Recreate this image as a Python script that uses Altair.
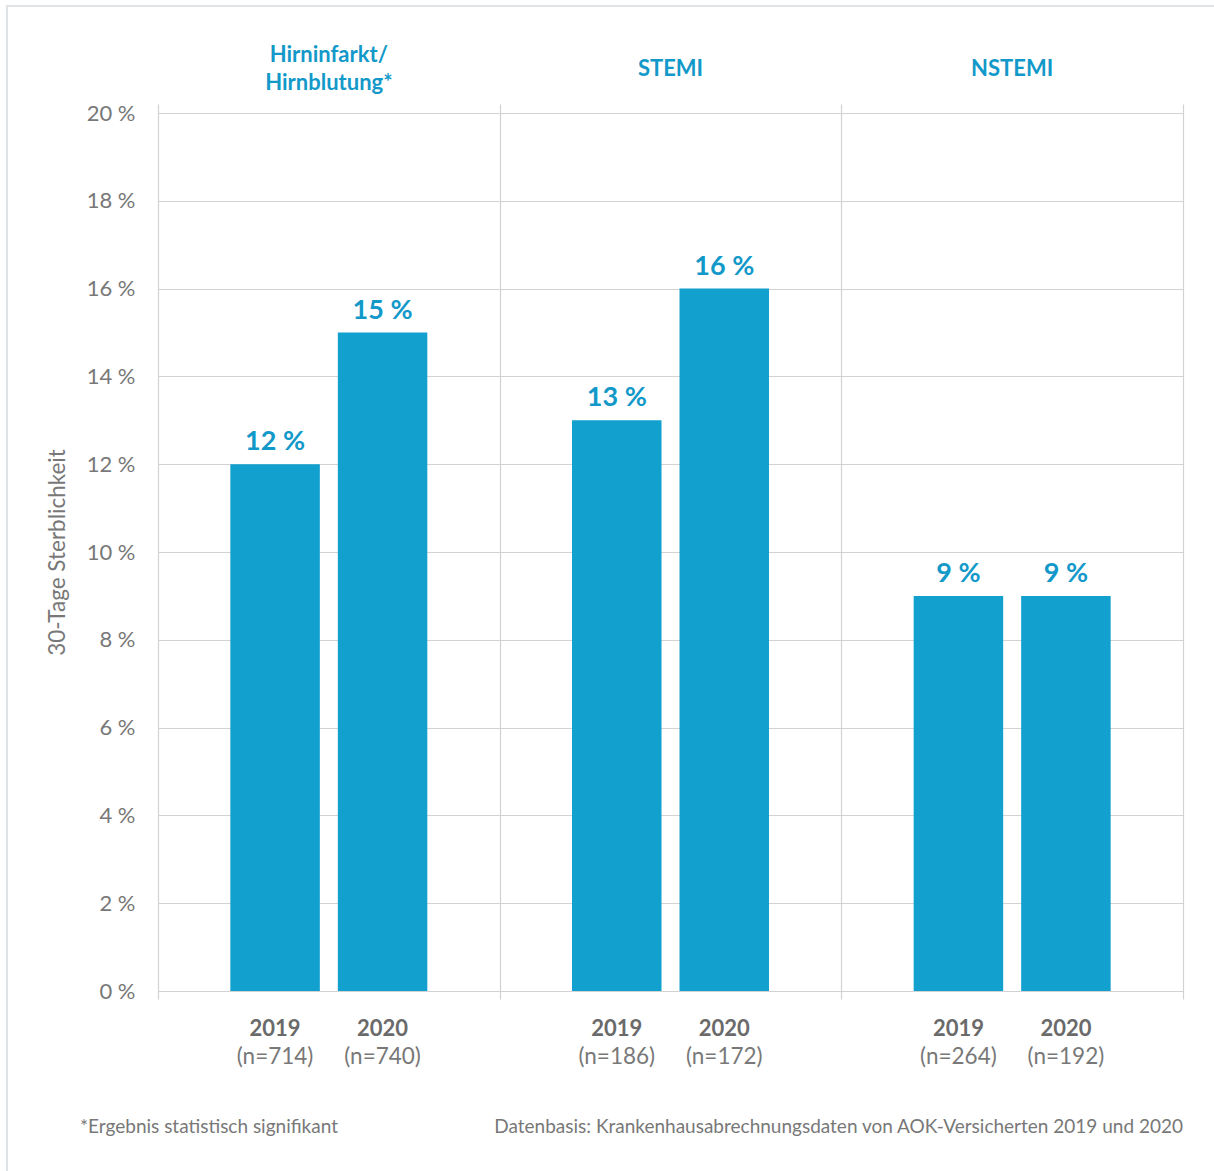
import altair as alt
import pandas as pd

# 30-day mortality by diagnosis group, 2019 vs 2020
groups = ["Hirninfarkt/\nHirnblutung*", "STEMI", "NSTEMI"]
years = ["2019", "2020"]
rates = [[12, 15], [13, 16], [9, 9]]
cases = [[714, 740], [186, 172], [264, 192]]

y_ticks = [0, 2, 4, 6, 8, 10, 12, 14, 16, 18, 20]
y_title = "30-Tage Sterblichkeit"
note_left = "*Ergebnis statistisch signifikant"
note_right = "Datenbasis: Krankenhausabrechnungsdaten von AOK-Versicherten 2019 und 2020"

rows = []
for g, vals, ns in zip(groups, rates, cases):
    for yr, v, n in zip(years, vals, ns):
        rows.append({"gruppe": g, "jahr": yr, "wert": v,
                     "label": f"{v} %", "n": f"(n={n})"})
df = pd.DataFrame(rows)
titles = pd.DataFrame({"gruppe": groups})

W, H = 1025, 878
FONT = "Lato"
BLUE = "#1399c9"
BAR = "#12a0cf"
GRAY = "#787878"
GRID = "#d2d2d2"
TITLE_MID = -44      # vertical centre of the panel titles above the plot
TITLE_LH = 28        # line height of the panel titles

x_enc = alt.X(
    "gruppe:N", sort=groups,
    scale=alt.Scale(paddingInner=0, paddingOuter=0),
    axis=alt.Axis(labels=False, title=None, domain=False, ticks=True,
                  tickBand="extent", tickSize=8, tickColor=GRID,
                  grid=True, gridColor=GRID, tickWidth=1.2, gridWidth=1.2),
)
x_plain = alt.X("gruppe:N", sort=groups, axis=None)
xoff = alt.XOffset("jahr:N", scale=alt.Scale(paddingInner=0.1674, paddingOuter=0.673))

y_scale = alt.Scale(domain=[0, 20], nice=False)

base = alt.Chart(df)

bars = base.mark_bar(color=BAR).encode(
    x=x_enc,
    xOffset=xoff,
    y=alt.Y("wert:Q", scale=y_scale,
            axis=alt.Axis(values=y_ticks, labelExpr="datum.value + ' %'",
                          title=y_title, domain=False, ticks=False, tickSize=0,
                          grid=True, gridColor=GRID, gridWidth=1.2,
                          labelFont=FONT, labelFontSize=22, labelColor=GRAY,
                          labelPadding=23,
                          titleFont=FONT, titleFontSize=22.5, titleColor=GRAY,
                          titleFontWeight="normal",
                          titleX=-101, titleY=H / 2, titleAngle=-90,
                          titleAlign="center", titleBaseline="middle")),
)

values = base.mark_text(font=FONT, fontSize=27, fontWeight="bold", color=BLUE,
                        baseline="alphabetic", dy=-14).encode(
    x=x_plain, xOffset=xoff,
    y=alt.Y("wert:Q", scale=y_scale),
    text="label:N",
)

year_lbl = base.mark_text(font=FONT, fontSize=22, fontWeight="bold", color="#6a6a6a",
                          baseline="alphabetic").encode(
    x=x_plain, xOffset=xoff, y=alt.value(H + 45), text="jahr:N",
)

n_lbl = base.mark_text(font=FONT, fontSize=22.5, color=GRAY,
                       baseline="alphabetic").encode(
    x=x_plain, xOffset=xoff, y=alt.value(H + 73), text="n:N",
)

# top extension of the panel separators
top_ticks = alt.Chart(titles).mark_tick(opacity=0).encode(
    x=alt.X("gruppe:N", sort=groups,
            axis=alt.Axis(orient="top", labels=False, title=None, domain=False,
                          ticks=True, tickBand="extent", tickSize=9,
                          tickColor=GRID, tickWidth=1.2, grid=False)),
    y=alt.value(0),
)

# multi-line titles are centred on the same middle line as single-line ones
panel_titles = alt.Chart(titles).transform_calculate(
    ty=f"{TITLE_MID} - (length(split(datum.gruppe, '\\n')) - 1) * {TITLE_LH / 2}"
).mark_text(
    font=FONT, fontSize=22, fontWeight="bold", color=BLUE,
    baseline="middle", lineBreak="\n", lineHeight=TITLE_LH,
).encode(x=x_plain, y=alt.Y("ty:Q", scale=None), text="gruppe:N")

foot_left = alt.Chart(pd.DataFrame({"t": [note_left]})).mark_text(
    font=FONT, fontSize=19, color=GRAY, align="left", baseline="alphabetic",
).encode(x=alt.value(-78), y=alt.value(H + 142), text="t:N")

foot_right = alt.Chart(pd.DataFrame({"t": [note_right]})).mark_text(
    font=FONT, fontSize=19, color=GRAY, align="right", baseline="alphabetic",
).encode(x=alt.value(W), y=alt.value(H + 142), text="t:N")

frame = alt.Chart(titles).mark_rect(fill=None, stroke="#dfe3e6", strokeWidth=2).encode(
    x=alt.value(-151), x2=alt.value(1150), y=alt.value(-107), y2=alt.value(1150),
)

chart = alt.layer(
    frame, bars, top_ticks, values, year_lbl, n_lbl, panel_titles, foot_left, foot_right
).resolve_axis(x="independent").properties(
    width=W, height=H,
    autosize=alt.AutoSizeParams(type="none"),
    padding={"left": 158, "top": 113, "right": 31, "bottom": 180},
).configure_view(stroke=None).configure(background="white")

chart.save("out.html", embed_options={"renderer": "svg", "actions": False})
